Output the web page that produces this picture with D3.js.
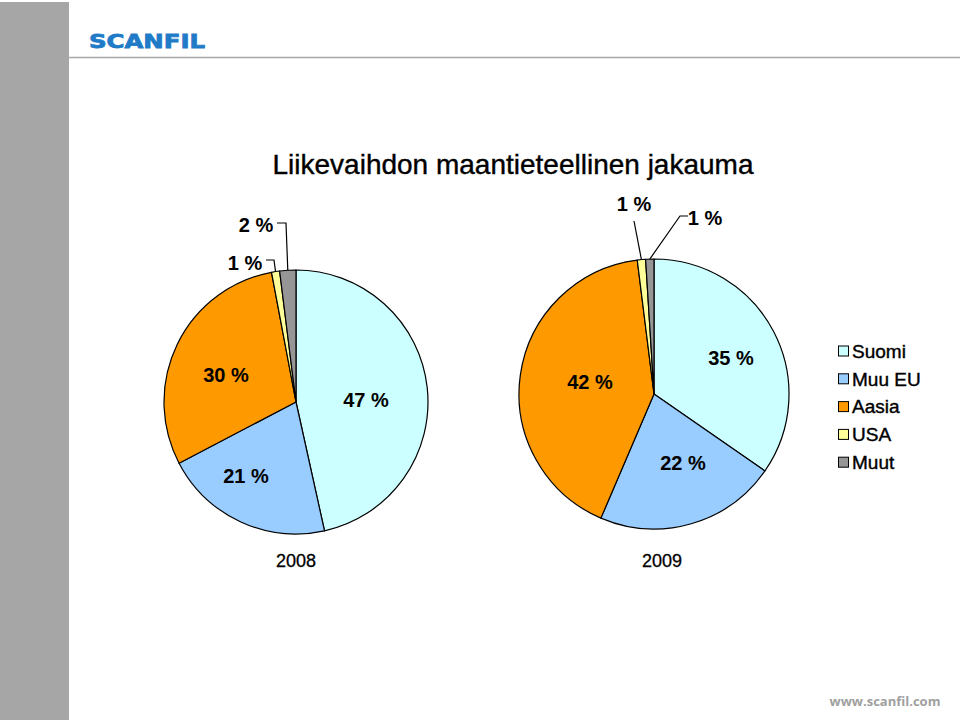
<!DOCTYPE html>
<html>
<head>
<meta charset="utf-8">
<script src="https://cdn.jsdelivr.net/npm/d3@7/dist/d3.min.js"></script>
<style>
  html, body { margin: 0; padding: 0; background: #fff; }
  svg { display: block; font-family: "Liberation Sans", Arial, sans-serif; }
</style>
</head>
<body>
<svg id="chart" width="960" height="720"></svg>
<script>
// ---- data ----
const title = "Liikevaihdon maantieteellinen jakauma";
const categories = ["Suomi", "Muu EU", "Aasia", "USA", "Muut"];
const years = ["2008", "2009"];
const values2008 = [47, 21, 30, 1, 2];
const values2009 = [35, 22, 42, 1, 1];
const colors = ["#CCFFFF", "#99CCFF", "#FF9900", "#FFFF99", "#969696"];

// ---- layout (style only) ----
const pies = [
  { values: values2008, year: years[0], cx: 296, cy: 402, r: 132,
    labels: [[70, -2], [-50, 74], [-70, -27], [-51, -139], [-40, -177]],
    leaders: [null, null, null,
      { elbow: [-22, -142], end: [-30, -142] },
      { elbow: [-10, -179], end: [-19, -179] }],
    yearPos: [296, 561] },
  { values: values2009, year: years[1], cx: 654, cy: 394, r: 135,
    labels: [[77, -36], [29, 69], [-64, -12], [-20, -190], [51, -176]],
    leaders: [null, null, null,
      { elbow: null, end: [-20, -173] },
      { elbow: [26, -178], end: [34, -178] }],
    yearPos: [662, 561] }
];

const svg = d3.select("#chart");

// sidebar & header
svg.append("rect").attr("x", 0).attr("y", 2).attr("width", 69).attr("height", 718).attr("fill", "#A6A6A6");
svg.append("line").attr("x1", 69).attr("x2", 960).attr("y1", 57.5).attr("y2", 57.5)
  .attr("stroke", "#A8A8A8").attr("stroke-width", 1.5);
svg.append("text").attr("x", 89).attr("y", 47.5).text("SCANFIL")
  .attr("font-family", "'DejaVu Sans', sans-serif").attr("font-weight", "bold")
  .attr("font-size", 19).attr("fill", "#1F7BC7").attr("stroke", "#1F7BC7").attr("stroke-width", 0.8)
  .attr("textLength", 116).attr("lengthAdjust", "spacingAndGlyphs");
svg.append("text").attr("x", 885).attr("y", 706).attr("text-anchor", "middle")
  .text("www.scanfil.com").attr("font-family", "'Open Sans', sans-serif")
  .attr("font-weight", "bold").attr("font-size", 13).attr("fill", "#A0A0A0");

// title
svg.append("text").attr("x", 513).attr("y", 174).attr("text-anchor", "middle")
  .attr("font-size", 28).attr("fill", "#000").attr("stroke", "#000").attr("stroke-width", 0.4)
  .text(title);

const pie = d3.pie().sort(null).value(d => d);

pies.forEach(p => {
  const g = svg.append("g").attr("transform", `translate(${p.cx},${p.cy})`);
  const arc = d3.arc().innerRadius(0).outerRadius(p.r);
  const arcs = pie(p.values);
  g.selectAll("path").data(arcs).join("path")
    .attr("d", arc)
    .attr("fill", (d, i) => colors[i])
    .attr("stroke", "#000").attr("stroke-width", 1.2).attr("stroke-linejoin", "round");

  arcs.forEach((d, i) => {
    const [lx, ly] = p.labels[i];
    const ld = p.leaders[i];
    if (ld) {
      const a = (d.startAngle + d.endAngle) / 2;
      const pts = [[p.r * Math.sin(a), -p.r * Math.cos(a)]];
      if (ld.elbow) pts.push(ld.elbow);
      pts.push(ld.end);
      g.append("path").attr("d", d3.line()(pts)).attr("fill", "none")
        .attr("stroke", "#000").attr("stroke-width", 1.2);
    }
    g.append("text").attr("x", lx).attr("y", ly).attr("dy", "0.36em")
      .attr("text-anchor", "middle").attr("font-size", 20).attr("font-weight", "bold")
      .attr("fill", "#000").text(d.value + " %");
  });

  svg.append("text").attr("x", p.yearPos[0]).attr("y", p.yearPos[1]).attr("dy", "0.36em")
    .attr("text-anchor", "middle").attr("font-size", 18).attr("fill", "#000")
    .attr("stroke", "#000").attr("stroke-width", 0.3).text(p.year);
});

// legend
const lg = svg.append("g").attr("transform", "translate(838,351)");
categories.forEach((c, i) => {
  const y = i * 27.8;
  lg.append("rect").attr("x", 0.5).attr("y", y - 5).attr("width", 10).attr("height", 10)
    .attr("fill", colors[i]).attr("stroke", "#000").attr("stroke-width", 1);
  lg.append("text").attr("x", 14).attr("y", y).attr("dy", "0.36em")
    .attr("font-size", 19).attr("fill", "#000").attr("stroke", "#000").attr("stroke-width", 0.4).text(c);
});
</script>
</body>
</html>
